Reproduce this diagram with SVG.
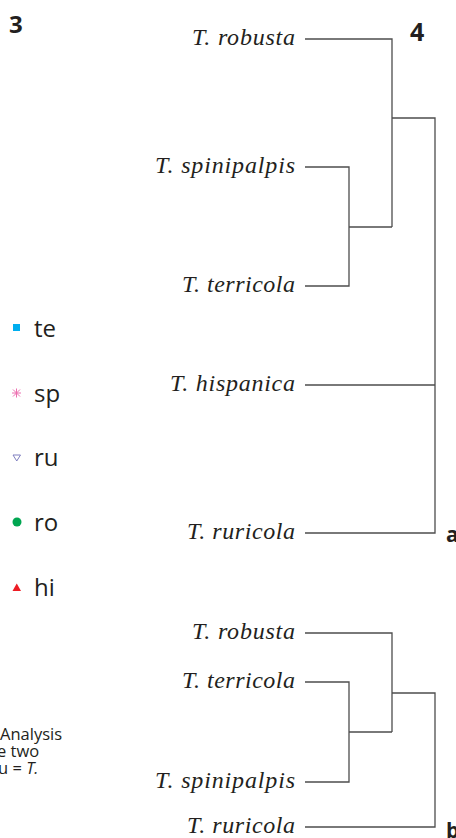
<svg xmlns="http://www.w3.org/2000/svg" width="456" height="838" viewBox="0 0 456 838">
<style>
.lbl{font-family:"Liberation Serif","Times New Roman",serif;font-style:italic;font-size:24px;fill:#231f20;text-anchor:end}
.leg{font-family:"Open Sans","Liberation Sans",sans-serif;font-size:24px;fill:#231f20}
.num{font-family:"Open Sans","Liberation Sans",sans-serif;font-weight:bold;fill:#231f20}
.cap{font-family:"Open Sans","Liberation Sans",sans-serif;font-size:16.5px;fill:#231f20}
.br{fill:none;stroke:#4d4d4d;stroke-width:1.3}
</style>
<rect width="456" height="838" fill="#ffffff"/>
<g id="panel-labels">
<text class="num" x="9" y="33" font-size="24">3</text>
<text class="num" x="410" y="41" font-size="25">4</text>
<text class="num" x="446" y="542" font-size="21">a</text>
<text class="num" x="446" y="838" font-size="21">b</text>
</g>
<g id="legend">
<g id="leg-te"><rect x="13" y="324" width="7" height="7" fill="#00aeef"/><text class="leg" x="34" y="337">te</text></g>
<g id="leg-sp"><path d="M12 393H21M16.5 388.5V397.5M13 389.5L20 396.5M20 389.5L13 396.5" stroke="#ec6fb0" stroke-width="1" fill="none"/><text class="leg" x="34" y="402">sp</text></g>
<g id="leg-ru"><path d="M13 455H20.5L16.75 461Z" fill="none" stroke="#7f7fc0" stroke-width="1"/><text class="leg" x="34" y="466">ru</text></g>
<g id="leg-ro"><circle cx="17" cy="522" r="4.5" fill="#00a651"/><text class="leg" x="34" y="531">ro</text></g>
<g id="leg-hi"><path d="M12.5 591H21L16.75 583.5Z" fill="#ed1c24"/><text class="leg" x="34" y="596">hi</text></g>
</g>
<g id="caption">
<text class="cap" x="0" y="740">Analysis</text>
<text class="cap" x="-3" y="757">e two</text>
<text class="cap" x="-2" y="774">u = <tspan font-style="italic">T.</tspan></text>
</g>
<g id="tree-a">
<g id="a-robusta"><text class="lbl" x="295" y="45" textLength="103" lengthAdjust="spacing">T. robusta</text></g>
<g id="a-spinipalpis"><text class="lbl" x="295" y="173" textLength="140" lengthAdjust="spacing">T. spinipalpis</text></g>
<g id="a-terricola"><text class="lbl" x="295" y="292" textLength="113" lengthAdjust="spacing">T. terricola</text></g>
<g id="a-hispanica"><text class="lbl" x="295" y="391" textLength="125" lengthAdjust="spacing">T. hispanica</text></g>
<g id="a-ruricola"><text class="lbl" x="295" y="539" textLength="108" lengthAdjust="spacing">T. ruricola</text></g>
</g>
<g id="tree-b">
<g id="b-robusta"><text class="lbl" x="295" y="639" textLength="103" lengthAdjust="spacing">T. robusta</text></g>
<g id="b-terricola"><text class="lbl" x="295" y="688" textLength="113" lengthAdjust="spacing">T. terricola</text></g>
<g id="b-spinipalpis"><text class="lbl" x="295" y="788" textLength="140" lengthAdjust="spacing">T. spinipalpis</text></g>
<g id="b-ruricola"><text class="lbl" x="295" y="833" textLength="108" lengthAdjust="spacing">T. ruricola</text></g>
</g>
<g id="connectors">
<path class="br" d="M305 39H392V227M305 167H349V286H305M349 227H392M392 118H435V533H305M305 385H435"/>
<path class="br" d="M305 633H392V732M305 682H349V782H305M349 732H392M392 693H435V827H305"/>
</g>
</svg>
